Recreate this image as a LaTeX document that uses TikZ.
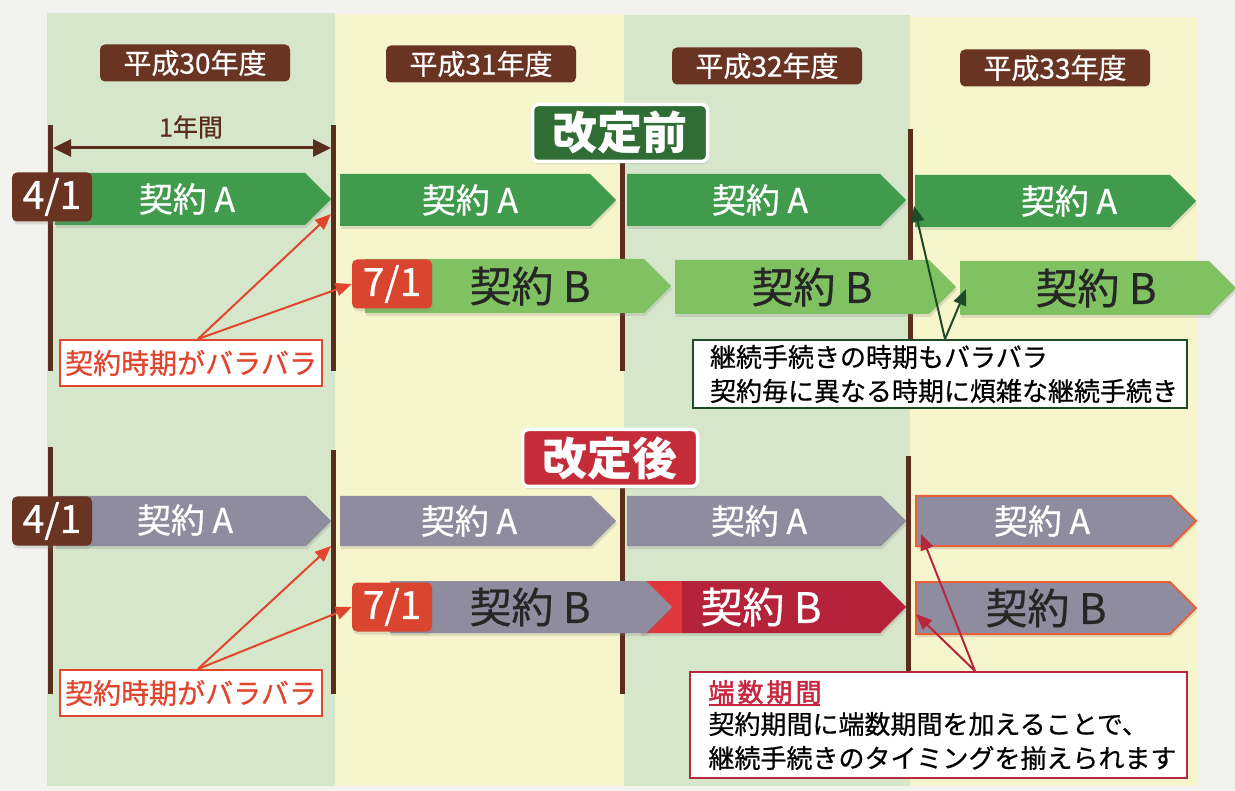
\documentclass[tikz,border=0pt]{standalone}
\usepackage{fontspec}
\setmainfont{Noto Sans CJK JP}
\newfontfamily\medfont{Noto Sans CJK JP}[FakeBold=0.6]
\newfontfamily\boldish{Noto Sans CJK JP}[FakeBold=1.8]
\usetikzlibrary{shapes.symbols,arrows.meta,shadows}
\definecolor{bgc}{HTML}{F2F2EE}
\definecolor{colg}{HTML}{D5E6CA}
\definecolor{coly}{HTML}{F7F5CB}
\definecolor{brownline}{HTML}{5A2D1C}
\definecolor{brownbox}{HTML}{6A3422}
\definecolor{greenA}{HTML}{409C4C}
\definecolor{greenB}{HTML}{80C262}
\definecolor{grayA}{HTML}{8E8C9E}
\definecolor{redB}{HTML}{B4233A}
\definecolor{redBl}{HTML}{E0353A}
\definecolor{redbox}{HTML}{D9452F}
\definecolor{redarr}{HTML}{E2452E}
\definecolor{crim}{HTML}{B8283C}
\definecolor{orangeb}{HTML}{E8603A}
\definecolor{kgreen}{HTML}{2F6D35}
\definecolor{kred}{HTML}{C42C3A}
\definecolor{dkgreen}{HTML}{1E4A28}
\definecolor{pinkt}{HTML}{C8283F}
\begin{document}
\begin{tikzpicture}[x=1pt,y=-1pt,
  vline/.style={draw=brownline,line width=5pt},
  shad/.style={drop shadow={shadow xshift=1pt,shadow yshift=-3pt,opacity=0.22}},
  sig/.style={shape=signal,signal to=east,signal from=nowhere,signal pointer angle=90,inner sep=0pt,anchor=west,shad},
  sigA/.style={sig,fill=greenA,minimum height=52pt},
  sigB/.style={sig,fill=greenB,minimum height=54pt},
  sigG/.style={sig,fill=grayA,minimum height=50pt},
  sigGB/.style={sig,fill=grayA,minimum height=52pt},
  txtA/.style={text=white,font=\medfont\fontsize{34}{34}\selectfont},
  txtB/.style={text=black!85,font=\medfont\fontsize{42}{42}\selectfont},
  yearbox/.style={fill=brownbox,rounded corners=5pt,minimum width=190pt,minimum height=37pt,inner sep=0pt,text=white,font=\medfont\fontsize{28}{28}\selectfont},
  datebox/.style={rounded corners=5pt,minimum width=80pt,minimum height=49pt,inner sep=0pt,text=white,font=\medfont\fontsize{39}{39}\selectfont,shad},
  tagbox/.style={rounded corners=6pt,draw=white,line width=3.5pt,minimum width=175pt,minimum height=57pt,inner sep=0pt,text=white,font=\bfseries\fontsize{45}{45}\selectfont,shad},
  redlabel/.style={draw=redarr,line width=2pt,fill=white,minimum width=262pt,minimum height=46pt,inner sep=0pt,text=redarr,font=\medfont\fontsize{28}{28}\selectfont},
  note/.style={fill=white,line width=2pt,inner sep=0pt,align=left,font=\medfont\fontsize{26}{34}\selectfont},
  rarr/.style={draw=redarr,line width=2pt,-{Triangle[length=16pt,width=13pt]}},
  garr/.style={draw=dkgreen,line width=2pt,-{Triangle[length=16pt,width=13pt]}},
  carr/.style={draw=crim,line width=2pt,-{Triangle[length=16pt,width=13pt]}}
]
\useasboundingbox (0,0) rectangle (1235,791);
\fill[bgc] (0,0) rectangle (1235,791);
% columns
\fill[colg] (47,13) rectangle (335,786);
\fill[coly] (335,14) rectangle (624,786);
\fill[colg] (624,15) rectangle (910,786);
\fill[coly] (910,17) rectangle (1198,786);

% year headers
\node[yearbox] (y30) at (195,63) {平成30年度};
\node[yearbox] (y31) at (481,64) {平成31年度};
\node[yearbox] (y32) at (767,66) {平成32年度};
\node[yearbox] (y33) at (1055,68) {平成33年度};

% ===== top section =====
\draw[vline] (50,125) -- (50,371);
\draw[vline] (333,125) -- (333,371);
\draw[vline] (622,150) -- (622,371);
\draw[vline] (910,129) -- (910,371);

\node[font=\medfont\fontsize{25}{25}\selectfont,text=brownline] (yr) at (191,127) {1年間};
\coordinate (yl) at (53,148);
\coordinate (yrr) at (331,148);
\draw[draw=brownline,line width=3pt,{Triangle[length=18pt,width=17pt]}-{Triangle[length=18pt,width=17pt]}] (yl) -- (yrr);

\node[tagbox,fill=kgreen] (before) at (620,133) {改定前};

\node[sigA,minimum width=276pt] (ta1) at (55,199) {};
\node[sigA,minimum width=276pt] (ta2) at (340,200) {};
\node[sigA,minimum width=279pt] (ta3) at (627,200) {};
\node[sigA,minimum width=281pt] (ta4) at (915,201) {};
\node[txtA] (tta1) at (187,199) {契約 A};
\node[txtA] (tta2) at (470,200) {契約 A};
\node[txtA] (tta3) at (760,200) {契約 A};
\node[txtA] (tta4) at (1069,201) {契約 A};
\node[datebox,fill=brownbox] (d41a) at (52,197) {4/1};

\node[sigB,minimum width=306pt] (tb1) at (365,286) {};
\node[sigB,minimum width=281pt] (tb2) at (675,287) {};
\node[sigB,minimum width=276pt] (tb3) at (960,288) {};
\node[txtB] (ttb1) at (530,286) {契約 B};
\node[txtB] (ttb2) at (812,287) {契約 B};
\node[txtB] (ttb3) at (1096,288) {契約 B};
\node[datebox,fill=redbox] (d71a) at (392,284) {7/1};

\node[redlabel] (lab1) at (191,363) {契約時期がバラバラ};
\coordinate (la1) at (331,214);
\draw[rarr] ([xshift=7pt]lab1.north) -- (la1);
\draw[rarr] ([xshift=7pt]lab1.north) -- (d71a.west);

\node[note,draw=dkgreen,minimum width=494pt,minimum height=68pt,text width=460pt] (n1) at (940,374) {継続手続きの時期もバラバラ\\契約毎に異なる時期に煩雑な継続手続き};
\coordinate (ga1) at (914,206);
\coordinate (gb3) at (966,289);
\draw[garr] ([xshift=5pt]n1.north) -- (ga1);
\draw[garr] ([xshift=5pt]n1.north) -- (gb3);

% ===== bottom section =====
\draw[vline] (50,447) -- (50,694);
\draw[vline] (333,450) -- (333,694);
\draw[vline] (622,470) -- (622,694);
\draw[vline] (908,456) -- (908,694);

\node[tagbox,fill=kred] (after) at (610,458) {改定後};

\node[sigG,minimum width=276pt] (ba1) at (55,521) {};
\node[sigG,minimum width=276pt] (ba2) at (340,521) {};
\node[sigG,minimum width=279pt] (ba3) at (627,521) {};
\node[sigG,draw=orangeb,line width=2pt,minimum width=280pt] (ba4) at (915,521) {};
\node[txtA] (tba1) at (185,520) {契約 A};
\node[txtA] (tba2) at (469,521) {契約 A};
\node[txtA] (tba3) at (759,521) {契約 A};
\node[txtA] (tba4) at (1042,521) {契約 A};
\node[datebox,fill=brownbox] (d41b) at (52,521) {4/1};

\node[sig,fill=redB,minimum height=52pt,minimum width=266pt] (bb2) at (640,607) {};
\fill[redBl] (640,581) rectangle (682,633);
\node[sigGB,minimum width=282pt] (bb1) at (390,607) {};
\node[sigGB,draw=orangeb,line width=2pt,minimum width=280pt] (bb3) at (915,608) {};
\node[txtB] (tbb1) at (530,607) {契約 B};
\node[txtB,text=white] (tbb2) at (761,607) {契約 B};
\node[txtB] (tbb3) at (1046,608) {契約 B};
\node[datebox,fill=redbox] (d71b) at (392,607) {7/1};

\node[redlabel] (lab2) at (191,693) {契約時期がバラバラ};
\coordinate (lb1) at (331,546);
\draw[rarr] ([xshift=7pt]lab2.north) -- (lb1);
\draw[rarr] ([xshift=7pt]lab2.north) -- (d71b.west);

\node[note,draw=crim,minimum width=497pt,minimum height=106pt,text width=459pt] (n2) at (938,725) {{\color{pinkt}\boldish\fontsize{26}{34}\selectfont 端\hspace{3pt}数\hspace{3pt}期\hspace{3pt}間}\\[-2pt]契約期間に端数期間を加えることで、\\継続手続きのタイミングを揃えられます};
\draw[draw=pinkt,line width=2pt] (709,705) -- (820,705);
\coordinate (ca4) at (921,534);
\coordinate (cb3) at (916,614);
\draw[carr] ([xshift=37pt]n2.north) -- (ca4);
\draw[carr] ([xshift=37pt]n2.north) -- (cb3);
\end{tikzpicture}
\end{document}
